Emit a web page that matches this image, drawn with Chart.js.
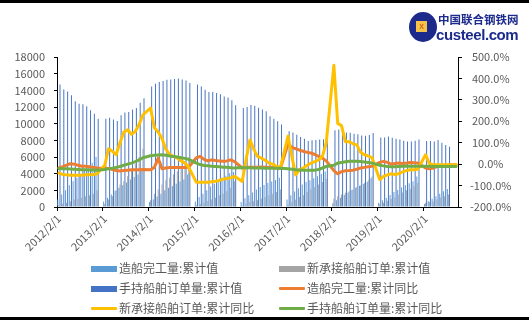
<!DOCTYPE html>
<html>
<head>
<meta charset="utf-8">
<script src="https://cdn.jsdelivr.net/npm/chart.js@4.4.0/dist/chart.umd.min.js"></script>
<style>
body { margin: 0; background: #fff; }
#wrap { position: relative; width: 529px; height: 322px; overflow: hidden; font-family: "Noto Sans CJK SC", "Noto Sans", sans-serif; }
#c { position: absolute; left: 0; top: 0; }
.rule { position: absolute; left: 0; width: 529px; height: 3px; background: #000; }
.lg { position: absolute; font-size: 12px; line-height: 14px; color: #595959; white-space: nowrap; }
.lg i { display: inline-block; width: 26px; vertical-align: middle; margin-right: 2px; position: relative; top: -1px; }
.box { height: 6px; }
.ln { height: 3px; border-radius: 1px; }
#logo { position: absolute; left: 409px; top: 12px; width: 28px; height: 30px; border-radius: 50%; background: #1c2a8c; }
#logo span { position: absolute; left: 7px; top: 9px; width: 11px; height: 11px; background: #f3c34a; font: bold 7px "Liberation Sans", sans-serif; color: #d2601e; text-align: center; line-height: 11px; }
#cn { position: absolute; left: 438px; top: 11px; font-size: 11.5px; font-weight: bold; color: #1c2a8c; letter-spacing: 0; }
#en { position: absolute; left: 436px; top: 26px; font: bold 15px "Liberation Sans", sans-serif; color: #1c2a8c; letter-spacing: -0.4px; }
</style>
</head>
<body>
<div id="wrap">
  <canvas id="c" width="529" height="322"></canvas>
  <div class="rule" style="top:0"></div>
  <div class="rule" style="top:317px"></div>
  <div id="logo"><span>X</span></div>
  <div id="cn">中国联合钢铁网</div>
  <div id="en">custeel.com</div>
  <div id="legend"></div>
</div>
<script>
// one tick label per year, each year runs Feb..Dec then Jan (Jan has no data)
const yearTicks = ['2012/2/1', '2013/2/1', '2014/2/1', '2015/2/1', '2016/2/1', '2017/2/1', '2018/2/1', '2019/2/1', '2020/2/1'];
const lastMonth = '2020/10/1';

// 万吨, cumulative
const doneTotal = [
  900, 1500, 2000, 2600, 3100, 3500, 4000, 4400, 4800, 5300, 6000, null,
  650, 1100, 1500, 1950, 2300, 2600, 2950, 3300, 3600, 3900, 4500, null,
  600, 900, 1250, 1600, 2000, 2300, 2500, 2800, 3050, 3300, 3900, null,
  650, 1200, 1600, 2000, 2450, 2800, 3150, 3500, 3750, 4050, 4200, null,
  600, 1050, 1400, 1750, 2100, 2400, 2650, 2900, 3050, 3250, 3500, null,
  900, 1400, 1850, 2250, 2700, 3000, 3200, 3450, 3700, 3950, 4250, null,
  450, 800, 1100, 1450, 1750, 2050, 2300, 2550, 2750, 3000, 3450, null,
  500, 800, 1100, 1450, 1800, 2050, 2350, 2600, 2850, 3100, 3650, null,
  350, 700, 1000, 1300, 1600, 1900, 2150, null, null
];
const newTotal = [
  200, 400, 500, 700, 900, 1000, 1100, 1300, 1400, 1600, 2000, null,
  350, 900, 1300, 2000, 2700, 3100, 3700, 4400, 5200, 6000, 7000, null,
  800, 1600, 2100, 2700, 3200, 3500, 3900, 4300, 4700, 5200, 6000, null,
  200, 350, 500, 700, 900, 1100, 1400, 1600, 1900, 2300, 3100, null,
  150, 400, 600, 700, 800, 1000, 1200, 1400, 1600, 1800, 2100, null,
  300, 600, 900, 1200, 1400, 1800, 2100, 2400, 2700, 3000, 3400, null,
  1000, 1300, 1500, 1700, 1900, 2100, 2400, 2600, 2900, 3200, 3650, null,
  350, 500, 750, 950, 1150, 1500, 1750, 2000, 2200, 2500, 2900, null,
  500, 600, 700, 900, 1150, 1300, 1500, null, null
];
const holdTotal = [
  14700, 14100, 13870, 13400, 12680, 12400, 12330, 12080, 11600, 11200, 10600, null,
  10600, 10700, 10500, 10330, 11000, 11330, 11400, 11700, 11880, 12500, 13060, null,
  14470, 14790, 14990, 15110, 15270, 15310, 15350, 15430, 15310, 15190, 14870, null,
  14710, 14470, 14080, 13800, 13800, 13680, 13520, 13250, 13130, 12800, 12210, null,
  11890, 12000, 12240, 12150, 11900, 11700, 11500, 10900, 10600, 10300, 9900, null,
  9100, 8950, 8680, 8400, 8200, 7930, 8000, 8050, 8100, 8130, 8100, null,
  9200, 9300, 8980, 8950, 8900, 8800, 8720, 8590, 8550, 8650, 8870, null,
  8350, 8350, 8470, 8300, 8190, 8110, 7950, 7870, 7870, 7950, 8110, null,
  7910, 7910, 7870, 8030, 7710, 7430, 7230, null, null
];

// %, year on year
const doneYoY = [
  -18, -12, -5, 2, 0, -5, -10, -10, -12, -15, -18, null,
  -20, -20, -25, -30, -32, -30, -28, -26, -26, -26, -25, null,
  -26, -15, 28, -22, -18, -16, -16, -16, -16, -16, -14, null,
  30, 36, 22, 15, 20, 17, 15, 13, 15, 20, 12, null,
  -18, -15, -14, -14, -14, -13, -14, -15, -16, -18, -20, null,
  95, 78, 72, 65, 60, 55, 52, 45, 36, 28, 15, null,
  -30, -45, -35, -31, -30, -28, -24, -18, -15, -12, -10, null,
  8, 13, 8, 0, 3, 5, 3, 5, 8, 6, 5, null,
  -18, -22, -18, -11, -8, -6, -4, -3, -3
];
const newYoY = [
  -42, -48, -50, -52, -52, -52, -52, -50, -50, -48, -45, null,
  -5, 72, 60, 44, 100, 150, 160, 140, 152, 185, 230, null,
  262, 170, 150, 120, 70, 45, 36, 28, 15, 5, -15, null,
  -85, -85, -85, -84, -82, -80, -76, -70, -67, -64, -57, null,
  -81, 20, 113, 70, 36, 28, 18, 5, 0, -11, -16, null,
  131, 36, -50, -26, -18, -5, 5, 12, 20, 36, 100, null,
  461, 190, 180, 105, 105, 95, 90, 55, 44, 38, 30, null,
  -72, -57, -50, -45, -48, -45, -36, -30, -26, -26, -24, null,
  44, 3, -3, -3, -3, -3, -3, -3, -3
];
const holdYoY = [
  -20, -21, -22, -23, -24, -25, -26, -26, -27, -27, -28, null,
  -25, -22, -19, -15, -11, -5, 0, 5, 12, 20, 30, null,
  39, 41, 43, 44, 42, 38, 36, 33, 30, 27, 22, null,
  5, -2, -6, -8, -10, -11, -12, -14, -15, -17, -18, null,
  -16, -17, -17, -18, -18, -18, -19, -19, -19, -19, -19, null,
  -22, -24, -26, -27, -28, -29, -29, -28, -25, -18, -11, null,
  -5, 5, 8, 11, 13, 13, 13, 12, 10, 8, 5, null,
  -5, -8, -11, -12, -12, -11, -10, -9, -10, -10, -10, null,
  -10, -10, -11, -11, -11, -11, -11, -11, -11
];

const names = ['造船完工量:累计值', '新承接船舶订单:累计值', '手持船舶订单量:累计值',
  '造船完工量:累计同比', '新承接船舶订单:累计同比', '手持船舶订单量:累计同比'];
const colors = ['#5B9BD5', '#A5A5A5', '#4472C4', '#ED7D31', '#FFC000', '#70AD47'];

// month labels: Feb..Dec, then Jan of next year
const months = [];
yearTicks.forEach(t => {
  const y = +t.split('/')[0];
  for (let m = 2; m <= 13 && months[months.length - 1] !== lastMonth; m++) {
    months.push(m <= 12 ? y + '/' + m + '/1' : (y + 1) + '/1/1');
  }
});

const tickColor = '#595959';
const tickFont = { family: '"Noto Sans CJK SC", "Noto Sans", sans-serif', size: 11 };

function bar(i, data) {
  return { type: 'bar', label: names[i], data: data, backgroundColor: colors[i],
    yAxisID: 'y', order: 10, categoryPercentage: 0.85, barPercentage: 0.9 };
}
function line(i, data, ord) {
  return { type: 'line', label: names[i], data: data, borderColor: colors[i], backgroundColor: colors[i],
    borderWidth: 3, pointRadius: 0, tension: 0, spanGaps: true, yAxisID: 'y1', order: ord,
    borderJoinStyle: 'round', borderCapStyle: 'round' };
}

new Chart(document.getElementById('c'), {
  data: {
    labels: months,
    datasets: [
      bar(0, doneTotal), bar(1, newTotal), bar(2, holdTotal),
      line(3, doneYoY, 3), line(4, newYoY, 2), line(5, holdYoY, 1)
    ]
  },
  options: {
    responsive: false,
    animation: false,
    devicePixelRatio: 1,
    layout: { padding: { top: 57, left: 0, right: 0, bottom: 0 } },
    plugins: { legend: { display: false }, tooltip: { enabled: false } },
    scales: {
      x: {
        offset: true,
        afterFit: s => { s.height = 115; },
        border: { color: '#000', width: 1 },
        grid: {
          offset: true, drawOnChartArea: false, tickLength: 4,
          color: ctx => (ctx.index % 12 === 0 ? '#000' : 'rgba(0,0,0,0)')
        },
        ticks: {
          autoSkip: false, minRotation: 45, maxRotation: 45, padding: 1,
          color: tickColor, font: tickFont,
          callback: (v, i) => (i % 12 === 0 ? months[i] : '')
        }
      },
      y: {
        position: 'left', min: 0, max: 18000,
        afterFit: s => { s.width = 57; },
        border: { color: '#000', width: 1 },
        grid: { drawOnChartArea: false, tickLength: 3, color: '#000' },
        ticks: { stepSize: 2000, padding: 9, color: tickColor, font: tickFont, callback: v => String(v) }
      },
      y1: {
        position: 'right', min: -200, max: 500,
        afterFit: s => { s.width = 71; },
        border: { color: '#000', width: 1 },
        grid: { drawOnChartArea: false, tickLength: 4, color: '#000' },
        ticks: {
          stepSize: 100, padding: 8, crossAlign: 'center', color: tickColor, font: tickFont,
          callback: v => v.toFixed(1) + '%'
        }
      }
    }
  }
});

// legend, two columns by three rows
const lgPos = [[91, 261], [279, 261], [91, 281], [279, 281], [91, 301], [279, 301]];
const lg = document.getElementById('legend');
names.forEach((n, i) => {
  const d = document.createElement('div');
  d.className = 'lg';
  d.style.left = lgPos[i][0] + 'px';
  d.style.top = lgPos[i][1] + 'px';
  d.innerHTML = '<i class="' + (i < 3 ? 'box' : 'ln') + '" style="background:' + colors[i] + '"></i>' + n;
  lg.appendChild(d);
});
</script>
</body>
</html>
